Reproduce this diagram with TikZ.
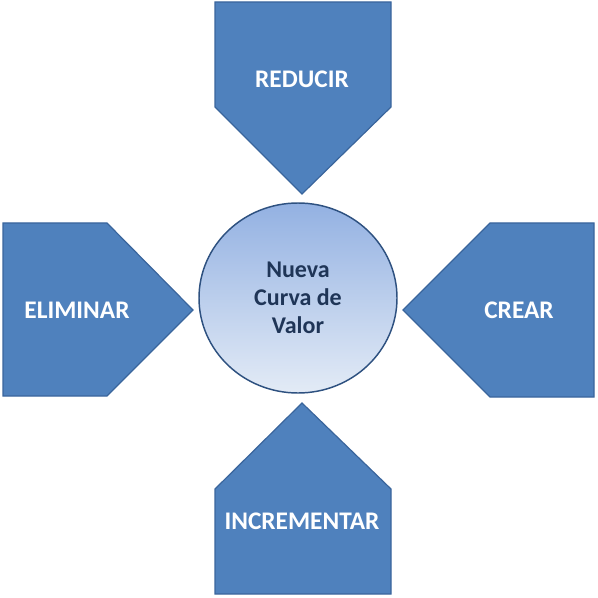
\documentclass[tikz,border=0pt]{standalone}
\usepackage{fontspec}
\setmainfont{Carlito}
\usetikzlibrary{shapes.geometric}

\definecolor{armblue}{HTML}{4F81BD}
\definecolor{armline}{HTML}{3A659C}
\definecolor{ringline}{HTML}{2E5180}
\definecolor{hubtop}{HTML}{93B1E2}
\definecolor{hubbottom}{HTML}{E3EBF6}
\definecolor{hubtext}{HTML}{1F3557}

\begin{document}
\begin{tikzpicture}[x=0.75pt, y=-0.75pt,
    arm/.style={fill=armblue, draw=armline, line width=0.9pt, line join=miter},
    armtext/.style={text=white, font=\fontsize{19}{22}\selectfont\bfseries},
    hub/.style={ellipse, draw=ringline, line width=1.1pt, top color=hubtop, bottom color=hubbottom,
        minimum width=148.5pt, minimum height=142.5pt, inner sep=0pt, align=center,
        text=hubtext, font=\fontsize{18}{21}\selectfont\bfseries}]
    \useasboundingbox (0,0) rectangle (598,598);

    % the four arms
    \draw[arm] (215,2) -- (391,2) -- (391,107) -- (302,194) -- (215,107) -- cycle;
    \draw[arm] (3,223) -- (107,223) -- (193,310) -- (107,396) -- (3,396) -- cycle;
    \draw[arm] (594,223) -- (490,223) -- (403,310) -- (490,397) -- (594,397) -- cycle;
    \draw[arm] (302,403) -- (391,489) -- (391,594) -- (215,594) -- (215,489) -- cycle;

    \node (reducir) [armtext] at (302,79) {REDUCIR};
    \node (eliminar) [armtext] at (77,310) {ELIMINAR};
    \node (crear) [armtext] at (519,310) {CREAR};
    \node (incrementar) [armtext] at (302,521) {INCREMENTAR};

    % centre
    \node (hubnode) [hub] at (298,298) {Nueva\\Curva de\\Valor};
\end{tikzpicture}
\end{document}
